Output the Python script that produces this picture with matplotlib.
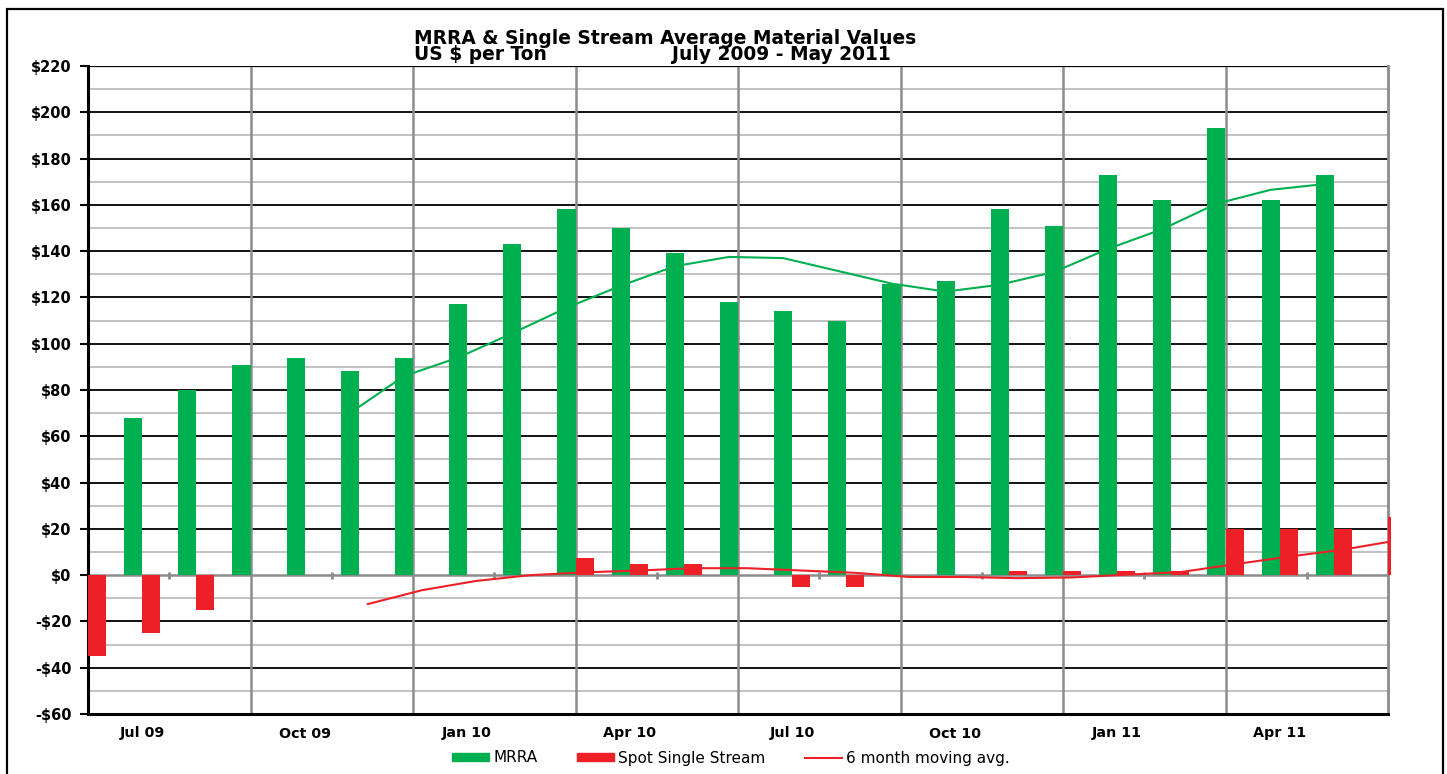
import matplotlib.pyplot as plt
from matplotlib.patches import Rectangle
from matplotlib.lines import Line2D

plt.rcParams['font.family'] = ['DejaVu Sans']

# data (one slot per month)
mrra = [68, 80, 91, 94, 88, 94, 117, 143, 158, 150, 139, 118,
        114, 110, 126, 127, 158, 151, 173, 162, 193, 162, 173]
spot = [-35, -25, -15, 0, 0, 0, 0, 0, 0, 7.5, 5, 5,
        0, -5, -5, 0, 0, 2, 2, 2, 2, 20, 20, 20, 25]
mrra_ma = [70, 86, 94, 104.5, 115.5, 125, 133.5, 137.5, 137, 131.5,
           126, 122.5, 125.5, 131, 141, 149.5, 160.5, 166.5, 169]
mrra_ma_start = 4
spot_ma = [-12.5, -6.5, -2.5, 0, 1.2, 2, 3, 3, 2, 1,
           -0.8, -0.8, -1.3, -1, 0.2, 1.3, 4.7, 8, 11, 15]
spot_ma_start = 5
x_labels = ['Jul 09', 'Oct 09', 'Jan 10', 'Apr 10',
            'Jul 10', 'Oct 10', 'Jan 11', 'Apr 11']
y_ticks = list(range(-60, 221, 20))

GREEN = '#00B050'
RED = '#EE2027'
n_slots = 24

W, H = 1447, 774
fig = plt.figure(figsize=(W / 100, H / 100), dpi=100)
ax = fig.add_axes([88 / W, 1 - 714 / H, 1300 / W, 648 / H])

# outer frame
fig.patches.append(Rectangle((7 / W, -0.05), 1436 / W, 1 - 9 / H + 0.05,
                             transform=fig.transFigure, fill=False,
                             edgecolor='black', linewidth=1.6))

ax.set_xlim(0, n_slots)
ax.set_ylim(-60, 220)

# grid
for v in range(-50, 220, 20):
    ax.axhline(v, color='#BDBDBD', linewidth=1.3, zorder=1)
for v in range(-40, 221, 20):
    if v != 0:
        ax.axhline(v, color='black', linewidth=1.3, zorder=1)
for xv in range(3, n_slots, 3):
    ax.axvline(xv, color='#8C8C8C', linewidth=1.8, zorder=1)
ax.axhline(0, color='#8C8C8C', linewidth=1.8, zorder=1)
for xv in range(1, n_slots, 3):
    ax.plot([xv + 0.5, xv + 0.5], [-1.5, 1.5], color='#8C8C8C',
            linewidth=2, zorder=1, solid_capstyle='butt')

# bars
bw = 1 / 3
green_x = [i + 5 / 6 for i in range(len(mrra))]
ax.bar(green_x, mrra, width=bw, color=GREEN, zorder=3)
red_x = [i + 1 / 6 for i in range(len(spot) - 1)]
ax.bar(red_x, spot[:-1], width=bw, color=RED, zorder=3)
# last red bar sits on the right edge, only a sliver shows
ax.bar(len(spot) - 1, spot[-1], width=0.06, align='edge', color=RED,
       zorder=3, clip_on=False)

# moving averages
ax.plot([mrra_ma_start + i + 5 / 6 for i in range(len(mrra_ma))], mrra_ma,
        color=GREEN, linewidth=1.5, zorder=4)
ax.plot([spot_ma_start + i + 1 / 6 for i in range(len(spot_ma))], spot_ma,
        color=RED, linewidth=1.5, zorder=4)

# spines
ax.spines['top'].set_visible(False)
ax.spines['left'].set_linewidth(2.2)
ax.spines['bottom'].set_linewidth(2.2)
ax.spines['right'].set_color('#8C8C8C')
ax.spines['right'].set_linewidth(2)
ax.axhline(220, color='black', linewidth=1.6, zorder=2)

# ticks
ax.set_yticks(y_ticks)
ax.set_yticklabels([f'${v}' if v >= 0 else f'-${-v}' for v in y_ticks],
                   fontsize=10.5, fontweight='bold')
ax.tick_params(axis='y', length=6, width=1.5, pad=6)
ax.set_xticks([1 + 3 * i for i in range(len(x_labels))])
ax.set_xticklabels(x_labels, fontsize=10.3, fontweight='bold')
ax.tick_params(axis='x', length=0, pad=9)

# titles
fig.text(665 / W, 1 - 38 / H, 'MRRA & Single Stream Average Material Values',
         ha='center', va='center', fontsize=13.4, fontweight='bold')
fig.text(414 / W, 1 - 55 / H, 'US $ per Ton', ha='left', va='center',
         fontsize=13.4, fontweight='bold')
fig.text(672 / W, 1 - 55 / H, 'July 2009 - May 2011', ha='left', va='center',
         fontsize=13.4, fontweight='bold')

# legend
handles = [Rectangle((0, 0), 1, 1, color=GREEN),
           Rectangle((0, 0), 1, 1, color=RED),
           Line2D([0], [0], color=RED, linewidth=1.5)]
fig.legend(handles, ['MRRA', 'Spot Single Stream', '6 month moving avg.'],
           loc='center', bbox_to_anchor=(731 / W, 1 - 758 / H), ncol=3,
           frameon=False, fontsize=11, handlelength=2.4, handleheight=0.5,
           handletextpad=0.3, columnspacing=2.6)

fig.savefig('out.png', dpi=100)
